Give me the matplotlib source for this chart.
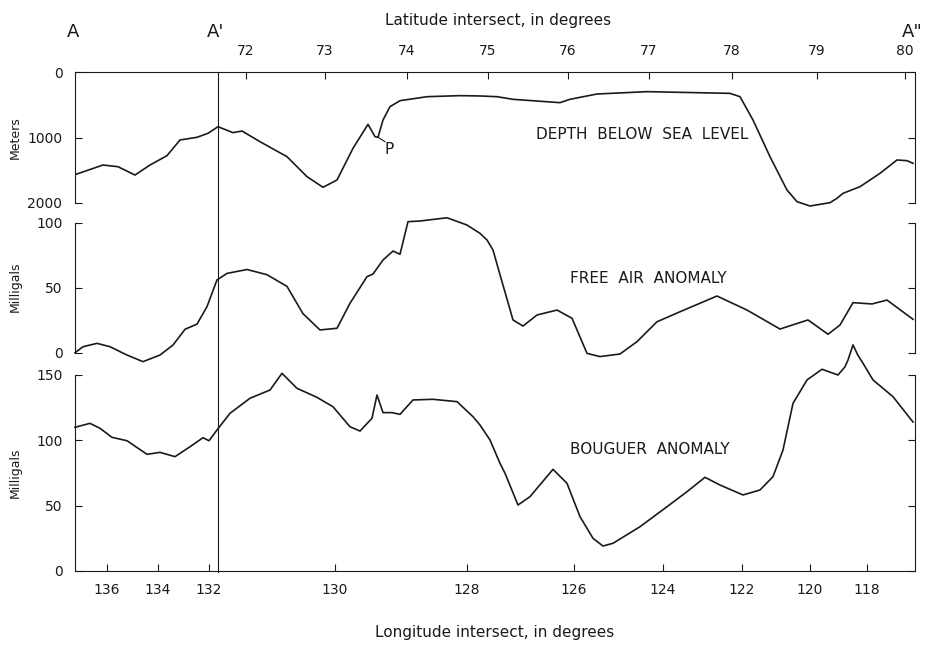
import matplotlib

matplotlib.use("Agg")
import matplotlib.pyplot as plt
import matplotlib.transforms as mtransforms
from matplotlib.lines import Line2D

# distance along the profile A - A'' (arbitrary units, 0 = A, 840 = A'')
PROFILE_END = 840
A_PRIME = 143

# top axis: latitude ticks, bottom axis: longitude ticks (positions along profile)
lat_pos = [171, 250, 332, 413, 493, 574, 657, 742, 830]
lat_labels = ["72", "73", "74", "75", "76", "77", "78", "79", "80"]
lon_pos = [32, 83, 134, 260, 392, 499, 588, 667, 735, 792]
lon_labels = ["136", "134", "132", "130", "128", "126", "124", "122", "120", "118"]

# depth below sea level, meters
depth_x = [1, 28, 43, 60, 75, 92, 105, 122, 133, 143, 158, 167, 185, 212, 232, 248,
           262, 278, 293, 300, 303, 308, 315, 325, 352, 385, 405, 422, 438, 485, 495,
           522, 572, 655, 665, 678, 695, 712, 722, 735, 755, 762, 768, 785, 805, 822,
           832, 838]
depth_m = [1562, 1420, 1446, 1573, 1420, 1277, 1038, 997, 936, 835, 926, 901, 1064,
           1293, 1598, 1760, 1649, 1165, 799, 987, 997, 733, 529, 438, 377, 361, 366,
           377, 417, 468, 417, 336, 300, 326, 377, 733, 1293, 1802, 1980, 2046, 1995,
           1928, 1852, 1751, 1547, 1343, 1354, 1394]

# free air anomaly, milligals
free_x = [0, 8, 22, 35, 52, 68, 85, 98, 110, 122, 132, 142, 152, 172, 192, 212, 228,
          245, 262, 275, 292, 298, 308, 318, 325, 333, 345, 372, 392, 405, 412, 418,
          425, 438, 448, 462, 482, 497, 512, 525, 545, 562, 582, 605, 642, 672, 705,
          733, 753, 765, 778, 797, 812, 838]
free_mgal = [0, 4.6, 7.2, 4.6, -1.8, -6.9, -1.8, 5.9, 18, 22, 35.4, 56, 61, 64, 60, 51,
             30, 17.5, 18.8, 38, 58.5, 60.5, 71.3, 78.2, 75.7, 100.8, 101.3, 103.8,
             98.2, 91.8, 86.7, 79, 60, 25.2, 20.5, 29, 32.8, 26.5, -0.5, -3, -1, 8.5,
             23.8, 31.5, 43.6, 32.8, 18.2, 25.2, 14.2, 21.3, 38.5, 37.5, 40.5, 25.7]

# bouguer anomaly, milligals
boug_x = [0, 15, 25, 37, 52, 72, 85, 100, 115, 128, 134, 142, 155, 175, 195, 207, 222,
          242, 258, 275, 285, 297, 302, 308, 317, 325, 338, 358, 382, 398, 405, 415,
          425, 430, 443, 455, 478, 492, 505, 518, 528, 538, 565, 592, 612, 630, 645,
          668, 685, 698, 708, 718, 732, 747, 763, 770, 773, 778, 783, 788, 798, 818,
          835, 838]
boug_mgal = [110, 113, 109.2, 102.3, 99.7, 89.3, 90.8, 87.5, 95.1, 102, 99.7, 107.9,
             120.7, 132.2, 138.5, 151.3, 139.8, 132.9, 125.7, 110.4, 107.1, 116.9,
             134.7, 121.2, 121.2, 119.9, 130.9, 131.4, 129.6, 118.1, 111.7, 100.3,
             82.4, 74.8, 50.5, 56.9, 77.8, 67.1, 41.6, 25, 19.1, 21.2, 33.9, 49.2,
             60.7, 71.7, 65.8, 58.2, 62, 72.2, 92.6, 128.3, 146.2, 154.4, 150, 156.3,
             161.5, 173, 165, 159, 146.2, 133.4, 116.9, 114]

INK = "#1a1a1a"
plt.rcParams["font.family"] = "DejaVu Sans"

fig = plt.figure(figsize=(9.31, 6.45), dpi=100)
left, width = 75 / 931, 840 / 931
ax_d = fig.add_axes([left, 1 - 203 / 645, width, 131 / 645])
ax_f = fig.add_axes([left, 1 - 352.7 / 645, width, 130 / 645])
ax_b = fig.add_axes([left, 1 - 571 / 645, width, 196 / 645])

for ax in (ax_d, ax_f, ax_b):
    ax.set_xlim(0, PROFILE_END)
    ax.set_facecolor("none")
    for s in ax.spines.values():
        s.set_linewidth(0.8)
        s.set_color(INK)
    ax.tick_params(axis="y", direction="in", length=5, width=0.8, left=True, right=True,
                   labelsize=10, pad=9, colors=INK)

ax_d.plot(depth_x, depth_m, color=INK, lw=1.2, clip_on=False)
ax_d.set_ylim(2000, 0)
ax_d.set_yticks([0, 1000, 2000])
ax_d.spines["bottom"].set_visible(False)
ax_d.xaxis.tick_top()
ax_d.set_xticks(lat_pos)
ax_d.set_xticklabels(lat_labels)
ax_d.tick_params(axis="x", direction="in", length=5, width=0.8, labelsize=10, pad=10,
                 colors=INK)

ax_f.plot(free_x, free_mgal, color=INK, lw=1.2, clip_on=False)
ax_f.set_ylim(0, 100)
ax_f.set_yticks([0, 50, 100])
ax_f.spines["top"].set_visible(False)
ax_f.spines["bottom"].set_visible(False)
ax_f.set_xticks([])

ax_b.plot(boug_x, boug_mgal, color=INK, lw=1.2, clip_on=False)
ax_b.set_ylim(0, 150)
ax_b.set_yticks([0, 50, 100, 150])
ax_b.spines["top"].set_visible(False)
ax_b.set_xticks(lon_pos)
ax_b.set_xticklabels(lon_labels)
ax_b.tick_params(axis="x", direction="in", length=5, width=0.8, labelsize=10, pad=9,
                 colors=INK)

# section line A' through all three panels
tr = mtransforms.blended_transform_factory(ax_d.transData, fig.transFigure)
fig.add_artist(Line2D([A_PRIME, A_PRIME], [1 - 572 / 645, 1 - 72 / 645], transform=tr,
                      color=INK, lw=0.8))

# point P on the depth profile
ax_d.plot([303, 310], [997, 1064], color=INK, lw=0.8)
ax_d.text(314, 1180, "P", ha="center", va="center", fontsize=11, color=INK)

ax_d.text(567, 950, "DEPTH  BELOW  SEA  LEVEL", ha="center", va="center", fontsize=11,
          color=INK)
ax_f.text(573, 57, "FREE  AIR  ANOMALY", ha="center", va="center", fontsize=11,
          color=INK)
ax_b.text(575, 93, "BOUGUER  ANOMALY", ha="center", va="center", fontsize=11,
          color=INK)

fig.text(15 / 931, 1 - 138 / 645, "Meters", rotation=90, ha="center", va="center",
         fontsize=9, color=INK)
fig.text(15 / 931, 1 - 287 / 645, "Milligals", rotation=90, ha="center", va="center",
         fontsize=9, color=INK)
fig.text(15 / 931, 1 - 473 / 645, "Milligals", rotation=90, ha="center", va="center",
         fontsize=9, color=INK)

fig.text(498 / 931, 1 - 21 / 645, "Latitude intersect, in degrees", ha="center",
         va="center", fontsize=11, color=INK)
fig.text(495 / 931, 1 - 633 / 645, "Longitude intersect, in degrees", ha="center",
         va="center", fontsize=11, color=INK)

for x_px, lab in [(73, "A"), (216, "A'"), (912, 'A"')]:
    fig.text(x_px / 931, 1 - 32 / 645, lab, ha="center", va="center", fontsize=13,
             color=INK)

fig.savefig("out.png", dpi=100)
